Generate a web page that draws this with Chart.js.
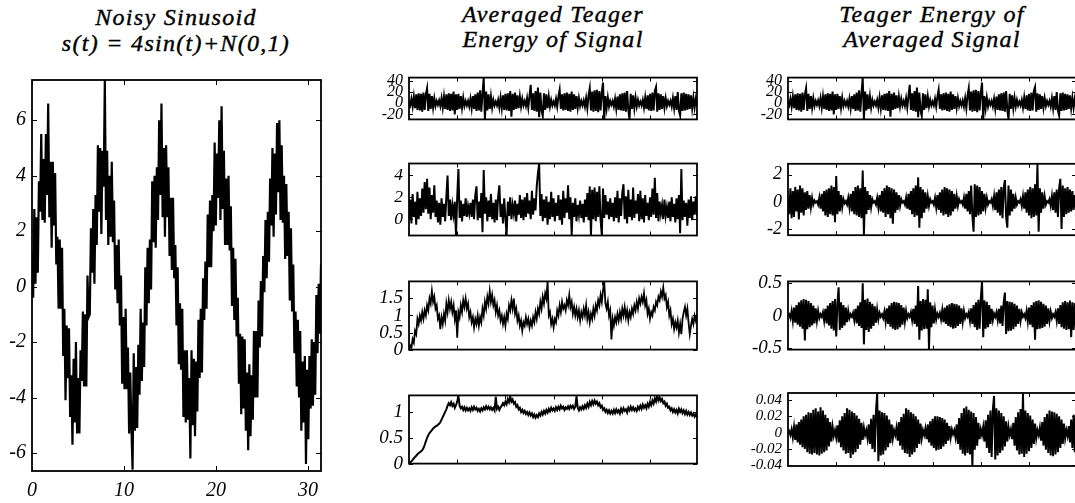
<!DOCTYPE html>
<html><head><meta charset="utf-8">
<script src="https://cdn.jsdelivr.net/npm/chart.js@4.4.1/dist/chart.umd.min.js"></script>
<style>
html,body{margin:0;padding:0;background:#fff;}
body{width:1075px;height:503px;overflow:hidden;position:relative;}
canvas{position:absolute;}
.title{position:absolute;font-family:"Liberation Serif","Times New Roman",serif;font-style:italic;font-size:24px;letter-spacing:1.3px;text-align:center;color:#000;white-space:nowrap;width:300px;-webkit-text-stroke:0.4px #000;}
</style></head><body>
<div class="title" style="left:26px;top:4px;line-height:26px;">Noisy Sinusoid<br>s(t) = 4sin(t)+N(0,1)</div>
<div class="title" style="left:403px;top:2px;line-height:25px;">Averaged Teager<br>Energy of Signal</div>
<div class="title" style="left:782px;top:2px;line-height:25px;">Teager Energy of<br>Averaged Signal</div>
<script>
// ---------- DATA ----------
const sinusoidStep = Math.PI / 25; // sampling step of t
const noisySinusoid = [
1.2,-0.4,2.8,0.1,2.5,0.5,3.8,2.7,5.5,2.4,4.6,2.3,5.5,3.3,6.6,2.5,4.5,1.4,4.5,2.2,4.1,0.8,1.8,-0.8,1.7,
-0.8,1.4,-2.5,-0.8,-4.1,-1.4,-3.3,-1.5,-4.7,-3.2,-5.7,-2.6,-4.9,-2.0,-5.3,-3.3,-5.3,-2.3,-3.4,-0.9,-3.6,-1.0,-3.6,0.4,-1.1,
-1.0,2.1,0.5,2.8,0.1,3.3,1.5,5.1,2.7,5.0,1.9,4.9,3.6,7.45,2.4,4.9,1.5,4.0,1.8,4.5,1.6,3.1,-0.1,1.5,-0.6,
1.7,-1.4,0.4,-3.5,-1.1,-3.7,-0.8,-3.7,-2.2,-5.3,-3.1,-5.1,-6.6,-2.4,-5.2,-2.9,-5.1,-2.1,-3.9,-0.8,-3.4,-1.3,-2.9,0.7,-1.4,
1.4,-0.6,1.7,-0.1,3.8,1.6,4.0,1.4,4.3,2.4,6.0,3.3,6.6,2.5,5.0,1.8,5.1,2.5,4.3,1.1,3.2,0.6,3.2,0.3,1.5,
-1.4,0.7,-2.8,-0.6,-3.0,-0.8,-4.7,-2.3,-4.9,-2.3,-4.8,-3.3,-6.2,-2.3,-5.0,-2.6,-5.4,-2.7,-4.5,-1.2,-3.3,-0.8,-3.1,0.3,-1.2,
0.9,-0.8,2.6,0.7,3.1,0.7,3.3,2.0,5.2,2.2,4.8,3.2,6.0,2.4,6.5,2.8,4.9,1.5,3.9,1.5,4.0,1.3,2.9,-0.7,1.4,
-1.2,1.0,-1.8,-0.4,-3.5,-1.7,-4.6,-1.8,-4.4,-1.9,-5.2,-3.1,-5.9,-2.8,-5.4,-3.2,-4.8,-1.6,-4.0,-1.6,-4.0,-0.5,-2.2,0.2,-1.8,
1.1,-0.2,2.4,0.3,2.7,0.9,3.9,2.2,5.0,1.8,4.8,2.6,5.9,3.4,6.0,2.4,5.1,2.3,4.0,1.0,3.7,1.1,2.7,-0.5,2.1,
-0.9,0.8,-2.4,-0.9,-3.6,-1.2,-4.0,-1.6,-5.2,-2.7,-4.9,-2.5,-6.4,-3.0,-5.5,-2.5,-4.4,-1.9,-4.3,-2.0,-3.9,-0.3,-2.4,0.1,-1.7,
0.8];
const sinusoidXTicks = [0, 10, 20, 30];
const sinusoidYTicks = [-6, -4, -2, 0, 2, 4, 6];

// Teager energy of the noisy signal (no averaging) - shown top of both columns
const teagerRaw = [
2,-4,8,-6,12,-9,16,-12,18,-13,17,-15,19,-12,16,27,-14,17,-10,13,-8,9,-5,4,
-3,5,-5,9,-8,12,-10,16,-12,18,-14,17,-13,21,-20,16,-12,17,-10,13,-8,10,-5,4,
-4,4,-6,8,-9,13,-10,16,-14,19,-13,23,-15,18,45.9,-28.9,21,-13,16,-10,12,-8,6,-4,
3,-4,6,-8,10,-9,14,-12,17,-13,18,-14,22,-24,17,-12,19,-10,14,-9,12,-6,8,-4,
4,-5,9,-8,13,33,-12,18,-14,22,-15,28,-25,19,-13,-23,18,-12,16,-9,12,-6,6,-4,
3,-4,8,-6,12,24,-10,16,-13,18,-12,19,-14,17,-15,21,-12,16,-10,13,-8,9,-5,4,
-4,5,-6,9,-9,14,27,-13,21,-15,23,-14,24,-16,22,-13,19,37,-28.9,13,-9,10,-6,4,
-3,4,-6,8,-10,12,-12,16,-13,18,-14,19,-15,22,-12,-28.9,17,-10,14,-9,10,-6,6,-4,
3,-4,6,-8,10,-10,14,-13,17,-14,19,-13,22,29,-15,18,-12,16,-10,13,-8,9,-5,4,
-3,4,-6,9,-9,13,-12,20,-13,-22,18,-14,19,-13,17,-12,16,-10,14,-9,10,-8,8,-5];
const teagerRawYTicks = [-20, 0, 20, 40];

// Averaged Teager energy of signal
const avgTeager2 = [
-0.1,1.8,-0.4,2.3,0.2,1.6,-0.5,2.5,0.0,1.9,0.3,2.8,0.6,3.4,0.9,3.7,0.5,2.9,0.0,2.2,0.6,3.1,0.2,1.7,
-0.3,1.5,-0.5,1.9,0.2,1.4,-0.2,2.1,4.0,0.3,1.8,-0.1,1.3,0.4,1.6,-1.49,2.0,4.6,0.1,1.7,-0.2,1.4,0.3,1.9,
0.2,1.2,0.5,1.5,0.2,1.8,0.0,2.2,3.0,-0.1,1.6,0.1,2.4,-1.2,4.5,0.5,2.0,-0.2,1.7,0.2,2.3,0.0,1.5,-0.3,
1.8,-0.1,2.1,3.1,0.2,1.4,-0.4,1.9,0.1,-1.49,1.6,0.3,2.0,0.0,1.3,0.5,1.7,-0.2,1.4,0.4,2.2,0.1,1.8,-0.1,
2.0,0.2,2.4,0.5,1.7,0.0,2.6,0.4,1.9,0.8,3.0,4.2,5.09,0.3,2.3,-0.2,1.8,0.1,2.1,-0.5,1.6,0.0,2.5,0.2,
1.9,-0.2,1.5,0.3,2.2,-0.1,1.8,-0.5,2.6,0.1,1.9,0.6,3.1,0.0,2.0,-1.49,1.5,0.2,1.9,-0.2,1.3,0.4,1.7,0.1,
1.4,-0.3,1.8,0.2,2.4,-0.1,3.0,-1.49,2.7,0.0,2.9,-0.2,2.5,0.2,3.0,-0.1,-1.49,2.8,0.1,2.2,0.4,1.6,0.0,1.9,
0.2,1.5,-0.2,2.0,0.1,2.6,-0.3,1.9,0.3,2.4,3.2,0.0,2.1,-0.4,2.7,0.2,1.8,-0.1,2.9,0.1,1.7,0.5,2.3,-0.2,
2.6,0.0,1.9,-0.3,2.2,0.3,1.5,-0.1,2.0,0.2,2.8,0.4,3.8,0.1,2.4,-0.2,1.6,0.5,1.3,0.0,1.8,0.3,1.1,0.1,
1.6,-0.2,2.0,0.2,1.4,-0.3,1.9,0.0,2.2,-1.3,4.6,-0.1,1.7,0.2,1.5,-0.6,1.8,0.1,2.1,-0.1,1.6,0.4,2.1,0.3];
const avgTeager2YTicks = [0, 2, 4];

const avgTeager3 = [
0.0,0.12,0.05,0.3,0.2,0.55,0.45,0.9,0.75,1.0,0.85,1.1,0.9,1.15,1.0,1.3,1.15,1.5,1.35,1.72,1.4,1.55,1.2,1.3,
0.9,1.0,0.6,0.95,0.75,1.05,0.85,1.35,1.1,1.45,1.2,1.4,1.1,1.3,0.9,1.15,0.35,1.1,0.95,1.3,1.1,1.45,1.25,1.5,
1.2,1.35,0.95,1.1,0.8,0.95,0.65,0.9,0.75,1.0,0.7,0.95,0.8,1.2,1.0,1.4,1.2,1.55,1.35,1.72,1.4,1.6,1.3,1.45,
1.1,1.3,1.0,1.15,0.85,1.0,0.75,0.95,0.7,1.05,0.9,1.3,1.15,1.45,1.2,1.5,1.05,1.2,0.85,1.0,0.7,0.85,0.55,0.8,
0.7,0.95,0.75,0.9,0.65,0.85,0.7,0.95,0.8,1.1,0.9,1.2,1.05,1.4,1.2,1.55,1.35,1.65,1.5,1.99,1.0,1.1,0.75,0.9,
0.65,0.9,0.8,1.15,1.0,1.3,1.1,1.4,1.2,1.3,1.15,1.45,1.3,1.6,1.25,1.4,1.05,1.25,1.0,1.2,0.95,1.15,0.85,1.1,
0.95,1.2,1.0,1.3,0.9,1.1,0.8,1.05,0.9,1.2,1.0,1.3,1.15,1.45,1.3,1.6,1.4,1.75,1.99,1.35,1.2,1.4,1.0,1.15,
0.3,0.9,0.7,0.95,0.8,1.05,0.85,1.1,0.9,1.2,1.0,1.25,0.95,1.15,0.85,1.1,0.95,1.2,1.05,1.3,1.15,1.4,1.2,1.5,
1.35,1.55,1.4,1.65,1.3,1.45,1.05,1.2,0.9,1.1,1.0,1.25,1.15,1.4,1.3,1.55,1.45,1.7,1.55,1.82,1.5,1.6,1.25,1.4,
1.0,1.15,0.75,0.9,0.6,0.8,0.65,0.85,0.5,0.75,0.45,0.9,1.1,1.25,1.0,1.2,0.8,0.45,0.7,0.9,0.75,1.0,0.85,1.05];
const avgTeager3YTicks = [0, 0.5, 1, 1.5];

const avgTeager4 = [
0.0,0.03,0.04,0.07,0.1,0.13,0.15,0.18,0.2,0.22,0.24,0.26,0.3,0.36,0.43,0.5,0.55,0.59,0.62,0.65,0.68,0.7,0.72,0.73,
0.75,0.77,0.8,0.85,0.9,0.95,1.0,1.05,1.12,1.17,1.13,1.19,1.12,1.16,1.08,1.13,1.2,1.31,1.12,1.07,1.1,1.04,1.09,1.03,
1.08,1.03,1.07,1.02,1.09,1.04,1.1,1.05,1.08,1.02,1.06,1.01,1.07,1.03,1.09,1.05,1.11,1.06,1.1,1.05,1.09,1.04,1.08,1.03,
1.29,1.06,1.1,1.04,1.09,1.12,1.17,1.13,1.2,1.15,1.25,1.19,1.3,1.2,1.24,1.16,1.19,1.1,1.13,1.05,1.08,1.0,1.04,0.98,
1.02,0.96,1.0,0.94,0.99,0.93,0.97,0.9,0.95,0.89,0.94,0.9,0.97,0.93,1.0,0.95,1.02,0.97,1.04,0.99,1.06,1.01,1.08,1.03,
1.07,1.02,1.09,1.04,1.1,1.05,1.12,1.07,1.1,1.04,1.09,1.06,1.11,1.06,1.12,1.08,1.12,1.06,1.1,1.3,1.08,1.03,1.09,1.05,
1.11,1.06,1.13,1.08,1.16,1.1,1.19,1.13,1.21,1.15,1.22,1.16,1.2,1.13,1.17,1.09,1.12,1.04,1.07,1.0,1.04,0.98,1.03,0.97,
1.02,0.97,1.04,0.98,1.05,0.99,1.03,0.97,1.06,1.0,1.07,1.02,1.05,0.99,1.08,1.03,1.1,1.04,1.09,1.03,1.07,1.02,1.1,1.05,
1.12,1.06,1.14,1.08,1.13,1.07,1.16,1.1,1.19,1.13,1.22,1.16,1.26,1.2,1.31,1.22,1.28,1.21,1.25,1.17,1.2,1.12,1.16,1.08,
1.1,1.03,1.07,1.0,1.05,0.99,1.04,0.97,1.06,1.0,1.05,0.98,1.03,0.96,1.02,0.95,1.0,0.94,0.99,0.93,0.97,0.91,0.95,0.9];
const avgTeager4YTicks = [0, 0.5, 1];

// Teager energy of averaged signal
const teagerAvg2 = [
0.3,-0.9,1.0,-1.2,0.8,-1.1,1.1,-0.7,0.9,-1.3,1.2,-0.8,1.0,-1.0,0.7,-0.6,0.8,-0.5,0.5,-0.4,0.3,-0.2,0.1,-0.05,
0.05,-0.2,0.3,-0.5,0.6,-0.7,0.8,-1.0,0.9,-1.1,1.0,-0.9,1.2,-1.0,1.1,-1.5,1.9,-0.9,0.8,-0.7,0.5,-0.4,0.2,-0.1,
0.05,-0.2,0.3,-0.4,0.6,-0.7,0.8,-0.9,1.1,-1.0,1.2,-1.1,1.0,-1.2,2.3,-2.44,1.1,-0.9,0.8,-0.6,0.5,-0.4,0.2,-0.05,
0.05,-0.2,0.3,-0.4,0.5,-0.7,0.8,-0.8,1.0,-1.1,1.2,-0.9,1.1,-1.2,1.0,-1.6,0.9,-0.8,0.7,-0.6,0.5,-0.3,0.2,-0.05,
0.05,-0.2,0.3,-0.5,0.6,-0.6,0.8,-0.9,1.0,-1.1,1.2,-1.0,1.8,-1.9,1.1,-1.2,0.9,-0.8,0.7,-0.5,0.4,-0.3,0.2,-0.05,
0.05,-0.2,0.3,-0.4,0.5,-0.6,0.7,-0.8,0.9,-1.0,1.1,-0.9,1.0,-1.1,0.9,-1.0,0.8,-0.7,0.6,-0.5,0.4,-0.3,0.2,-0.05,
0.05,-0.2,0.3,-0.5,0.6,-0.7,0.8,-0.9,1.2,-1.0,-2.2,1.3,-1.1,1.2,-1.0,1.1,-0.9,0.8,-0.7,0.6,-0.4,0.3,-0.2,0.05,
-0.05,0.2,-0.3,0.4,-0.6,0.7,-0.8,0.9,-1.0,1.1,-1.2,1.0,1.6,-1.1,-1.9,1.2,-1.0,0.9,-0.7,0.6,-0.5,0.3,-0.2,0.05,
-0.05,0.2,-0.3,0.4,-0.5,0.7,-0.8,0.9,-1.0,1.1,-1.2,1.0,-1.1,1.3,-1.0,2.79,-2.2,1.0,-0.8,0.7,-0.5,0.4,-0.2,0.05,
-0.05,0.2,-0.3,0.4,-0.6,0.7,-0.8,0.9,-1.1,1.0,1.7,-2.0,1.2,-1.1,1.0,-0.9,1.1,-0.8,0.9,-0.7,0.8,-0.6,0.5,-0.4];
const teagerAvg2YTicks = [-2, 0, 2];

const teagerAvg3 = [
0.0,0.02,-0.04,0.07,-0.08,0.12,-0.11,0.16,-0.14,0.2,-0.17,0.23,-0.2,0.25,-0.38,0.24,-0.21,0.22,-0.18,0.19,-0.15,0.15,-0.12,0.11,-0.08,0.07,-0.04,0.02,
-0.02,0.05,-0.08,0.1,-0.12,0.15,-0.15,0.19,-0.2,0.22,-0.23,0.25,-0.32,0.18,0.43,-0.22,0.2,-0.19,0.16,-0.15,0.12,-0.1,0.07,-0.04,0.02,
-0.02,0.04,-0.07,0.1,-0.12,0.15,-0.16,0.2,-0.19,0.49,-0.44,0.24,-0.22,0.26,-0.25,0.21,-0.2,0.18,-0.16,0.14,-0.11,0.09,-0.06,0.04,-0.02,
0.02,-0.04,0.06,-0.09,0.11,-0.13,0.15,-0.17,0.19,-0.2,0.21,-0.22,0.2,-0.21,0.19,-0.18,0.16,-0.14,0.12,-0.09,0.07,-0.04,0.02,
-0.02,0.05,-0.07,0.1,-0.13,0.15,-0.17,0.45,-0.37,0.22,-0.23,0.25,-0.21,0.24,-0.2,0.4,-0.519,0.2,-0.18,0.15,-0.12,0.09,-0.06,0.03,
-0.02,0.04,-0.06,0.08,-0.1,0.12,-0.13,0.15,-0.16,0.17,-0.18,0.19,-0.2,0.18,-0.19,0.17,-0.16,0.15,-0.13,0.11,-0.09,0.07,-0.04,0.02,
-0.02,0.05,-0.08,0.11,-0.13,0.16,-0.18,0.2,-0.22,0.24,-0.2,0.26,0.519,-0.33,0.23,-0.2,0.21,-0.18,0.16,-0.13,0.1,-0.07,0.03,
-0.02,0.05,-0.07,0.1,-0.12,0.15,-0.16,0.2,0.35,-0.28,0.22,-0.24,0.21,-0.23,0.2,-0.21,0.18,-0.17,0.15,-0.13,0.1,-0.08,0.05,-0.02,
0.02,-0.04,0.07,-0.09,0.12,-0.14,0.16,-0.18,0.2,-0.37,0.22,-0.21,0.23,-0.2,0.21,-0.19,0.18,-0.17,0.15,-0.13,0.11,-0.08,0.06,-0.04,0.02,
-0.02,0.05,-0.08,0.11,-0.13,0.16,-0.18,0.2,-0.2,0.22,-0.22,0.2,-0.21,0.23,-0.33,0.2,-0.22,0.19,-0.2];
const teagerAvg3YTicks = [-0.5, 0, 0.5];

const teagerAvg4 = [
0.0,0.002,-0.003,0.004,-0.006,0.007,-0.009,0.01,-0.012,0.013,-0.015,0.016,-0.018,0.02,-0.02,0.022,-0.024,0.025,-0.026,0.024,-0.027,0.028,-0.025,0.03,-0.027,0.026,-0.028,0.031,-0.026,0.027,-0.024,0.022,-0.022,0.018,-0.017,0.013,-0.011,0.007,-0.004,
0.003,-0.006,0.009,-0.012,0.015,-0.018,0.02,-0.022,0.024,-0.026,0.03,-0.025,0.028,-0.031,0.026,-0.027,0.024,-0.024,0.021,-0.02,0.017,-0.015,0.012,-0.009,0.006,-0.003,
0.003,-0.007,0.01,-0.014,0.017,-0.02,0.022,-0.024,0.026,0.048,-0.035,0.027,-0.028,0.025,-0.027,0.024,-0.022,0.021,-0.018,0.016,-0.013,0.01,-0.007,0.003,
-0.003,0.006,-0.01,0.013,-0.016,0.019,-0.021,0.023,-0.025,0.03,-0.026,0.028,-0.03,0.025,-0.027,0.023,-0.024,0.02,-0.019,0.016,-0.014,0.011,-0.007,0.003,
-0.003,0.005,-0.008,0.01,-0.012,0.014,-0.016,0.017,-0.019,0.02,-0.022,0.02,-0.021,0.019,-0.02,0.018,-0.017,0.016,-0.014,0.012,-0.01,0.008,-0.006,0.004,-0.002,
0.003,-0.006,0.01,-0.014,0.018,-0.021,0.024,-0.026,0.03,-0.028,0.032,-0.025,0.028,-0.027,0.026,-0.0409,0.024,-0.021,0.019,-0.016,0.012,-0.008,0.004,
-0.003,0.007,-0.011,0.015,-0.019,0.022,-0.025,0.027,-0.03,0.028,0.045,-0.033,0.03,-0.028,0.027,-0.025,0.024,-0.022,0.02,-0.017,0.014,-0.011,0.007,-0.003,
0.004,-0.008,0.012,-0.016,0.019,-0.022,0.025,-0.027,0.029,-0.026,0.048,-0.03,0.027,-0.026,0.024,-0.023,0.021,-0.019,0.016,-0.014,0.011,-0.007,0.003,
-0.003,0.006,-0.01,0.013,-0.016,0.019,-0.021,0.023,-0.025,0.027,-0.028,0.026,-0.029,0.025,-0.027,0.023,-0.024,0.02,-0.019,0.016,-0.014,0.011,-0.007,0.003,
-0.004,0.008,-0.012,0.016,-0.019,0.022,-0.024,0.026];
const teagerAvg4YTicks = [-0.04, -0.02, 0, 0.02, 0.04];

const sampleXTicks = [40, 80, 120, 160, 200];

// ---------- LAYOUT ----------
const rowsY = [[72, 53], [157, 85], [274, 83], [388, 83]];
const colMid = 409, colRight = 788, smallW = 288;
const panels = [
  {data: noisySinusoid, step: sinusoidStep, xMax: 10 * Math.PI, xTicks: sinusoidXTicks, yTicks: sinusoidYTicks,
   yMin: -6.65, yMax: 7.45, box: [32, 72, 289, 399], labelW: 32, font: 20, xLabels: true, tick: 5, lw: 2.2},
  {data: teagerRaw, yTicks: teagerRawYTicks, yMin: -29, yMax: 46, col: colMid, row: 0, font: 16, lw: 2},
  {data: avgTeager2, yTicks: avgTeager2YTicks, yMin: -1.5, yMax: 5.1, col: colMid, row: 1, font: 17.5, lw: 2},
  {data: avgTeager3, yTicks: avgTeager3YTicks, yMin: 0, yMax: 2.0, col: colMid, row: 2, font: 19, lw: 1.8},
  {data: avgTeager4, yTicks: avgTeager4YTicks, yMin: 0, yMax: 1.32, col: colMid, row: 3, font: 19, lw: 2},
  {data: teagerRaw, yTicks: teagerRawYTicks, yMin: -29, yMax: 46, col: colRight, row: 0, font: 16, lw: 2},
  {data: teagerAvg2, yTicks: teagerAvg2YTicks, yMin: -2.45, yMax: 2.8, col: colRight, row: 1, font: 18, lw: 2},
  {data: teagerAvg3, yTicks: teagerAvg3YTicks, yMin: -0.52, yMax: 0.52, col: colRight, row: 2, font: 19, lw: 2},
  {data: teagerAvg4, yTicks: teagerAvg4YTicks, yMin: -0.041, yMax: 0.0486, col: colRight, row: 3, font: 15, lw: 2}
];

const framePlugin = {
  id: 'frame',
  afterDraw(chart, args, opts) {
    const {ctx, chartArea: a, scales: {x, y}} = chart;
    const L = opts.tick || 4;
    ctx.save();
    ctx.strokeStyle = '#000';
    ctx.lineWidth = 1;
    ctx.beginPath();
    y.ticks.forEach(t => {
      const py = Math.round(y.getPixelForValue(t.value)) + 0.5;
      ctx.moveTo(a.left, py); ctx.lineTo(a.left + L, py);
      ctx.moveTo(a.right, py); ctx.lineTo(a.right - L, py);
    });
    x.ticks.forEach(t => {
      const px = Math.round(x.getPixelForValue(t.value)) + 0.5;
      ctx.moveTo(px, a.bottom); ctx.lineTo(px, a.bottom - L);
      ctx.moveTo(px, a.top); ctx.lineTo(px, a.top + L);
    });
    ctx.stroke();
    ctx.lineWidth = 1.8;
    ctx.strokeRect(a.left, a.top, a.right - a.left, a.bottom - a.top);
    ctx.restore();
  }
};

panels.forEach(p => {
  let pl, pt, pw, ph;
  if (p.box) { [pl, pt, pw, ph] = p.box; }
  else { pl = p.col; pt = rowsY[p.row][0]; pw = smallW; ph = rowsY[p.row][1]; }
  const labelW = p.labelW || 50;
  const step = p.step || 1;
  const xMax = p.xMax !== undefined ? p.xMax : (p.data.length - 1);
  const xTicks = p.xTicks || sampleXTicks;
  const padT = 10, padR = 10;
  const xH = p.xLabels ? 34 : 0;
  const padB = p.xLabels ? 0 : 10;
  const cv = document.createElement('canvas');
  cv.width = labelW + pw + padR;
  cv.height = padT + ph + padB + xH;
  cv.style.left = (pl - labelW) + 'px';
  cv.style.top = (pt - padT) + 'px';
  cv.style.width = cv.width + 'px';
  cv.style.height = cv.height + 'px';
  document.body.appendChild(cv);
  const font = {family: '"Liberation Serif", "Times New Roman", serif', style: 'italic', size: p.font};
  new Chart(cv, {
    type: 'line',
    data: {datasets: [{
      data: p.data.map((v, i) => ({x: i * step, y: v})),
      borderColor: '#000', borderWidth: p.lw, pointRadius: 0, fill: false, tension: 0,
      borderJoinStyle: 'miter'
    }]},
    options: {
      responsive: false, animation: false, devicePixelRatio: 1, events: [],
      layout: {padding: {left: 0, top: padT, right: padR, bottom: padB}},
      plugins: {legend: {display: false}, tooltip: {enabled: false}, title: {display: false},
                frame: {tick: p.tick || 4}},
      scales: {
        x: {type: 'linear', min: 0, max: xMax,
            grid: {display: false, drawTicks: false}, border: {display: false},
            ticks: {display: !!p.xLabels, autoSkip: false, maxRotation: 0, padding: 8, color: '#000', font: font,
                    callback: v => String(v)},
            afterBuildTicks: s => { s.ticks = xTicks.map(v => ({value: v})); },
            afterFit: s => { s.height = xH; }},
        y: {type: 'linear', min: p.yMin, max: p.yMax,
            grid: {display: false, drawTicks: false}, border: {display: false},
            ticks: {autoSkip: false, padding: 6, color: '#000', font: font, callback: v => String(v)},
            afterBuildTicks: s => { s.ticks = p.yTicks.map(v => ({value: v})); },
            afterFit: s => { s.width = labelW; }}
      }
    },
    plugins: [framePlugin]
  });
});
</script>
</body></html>
